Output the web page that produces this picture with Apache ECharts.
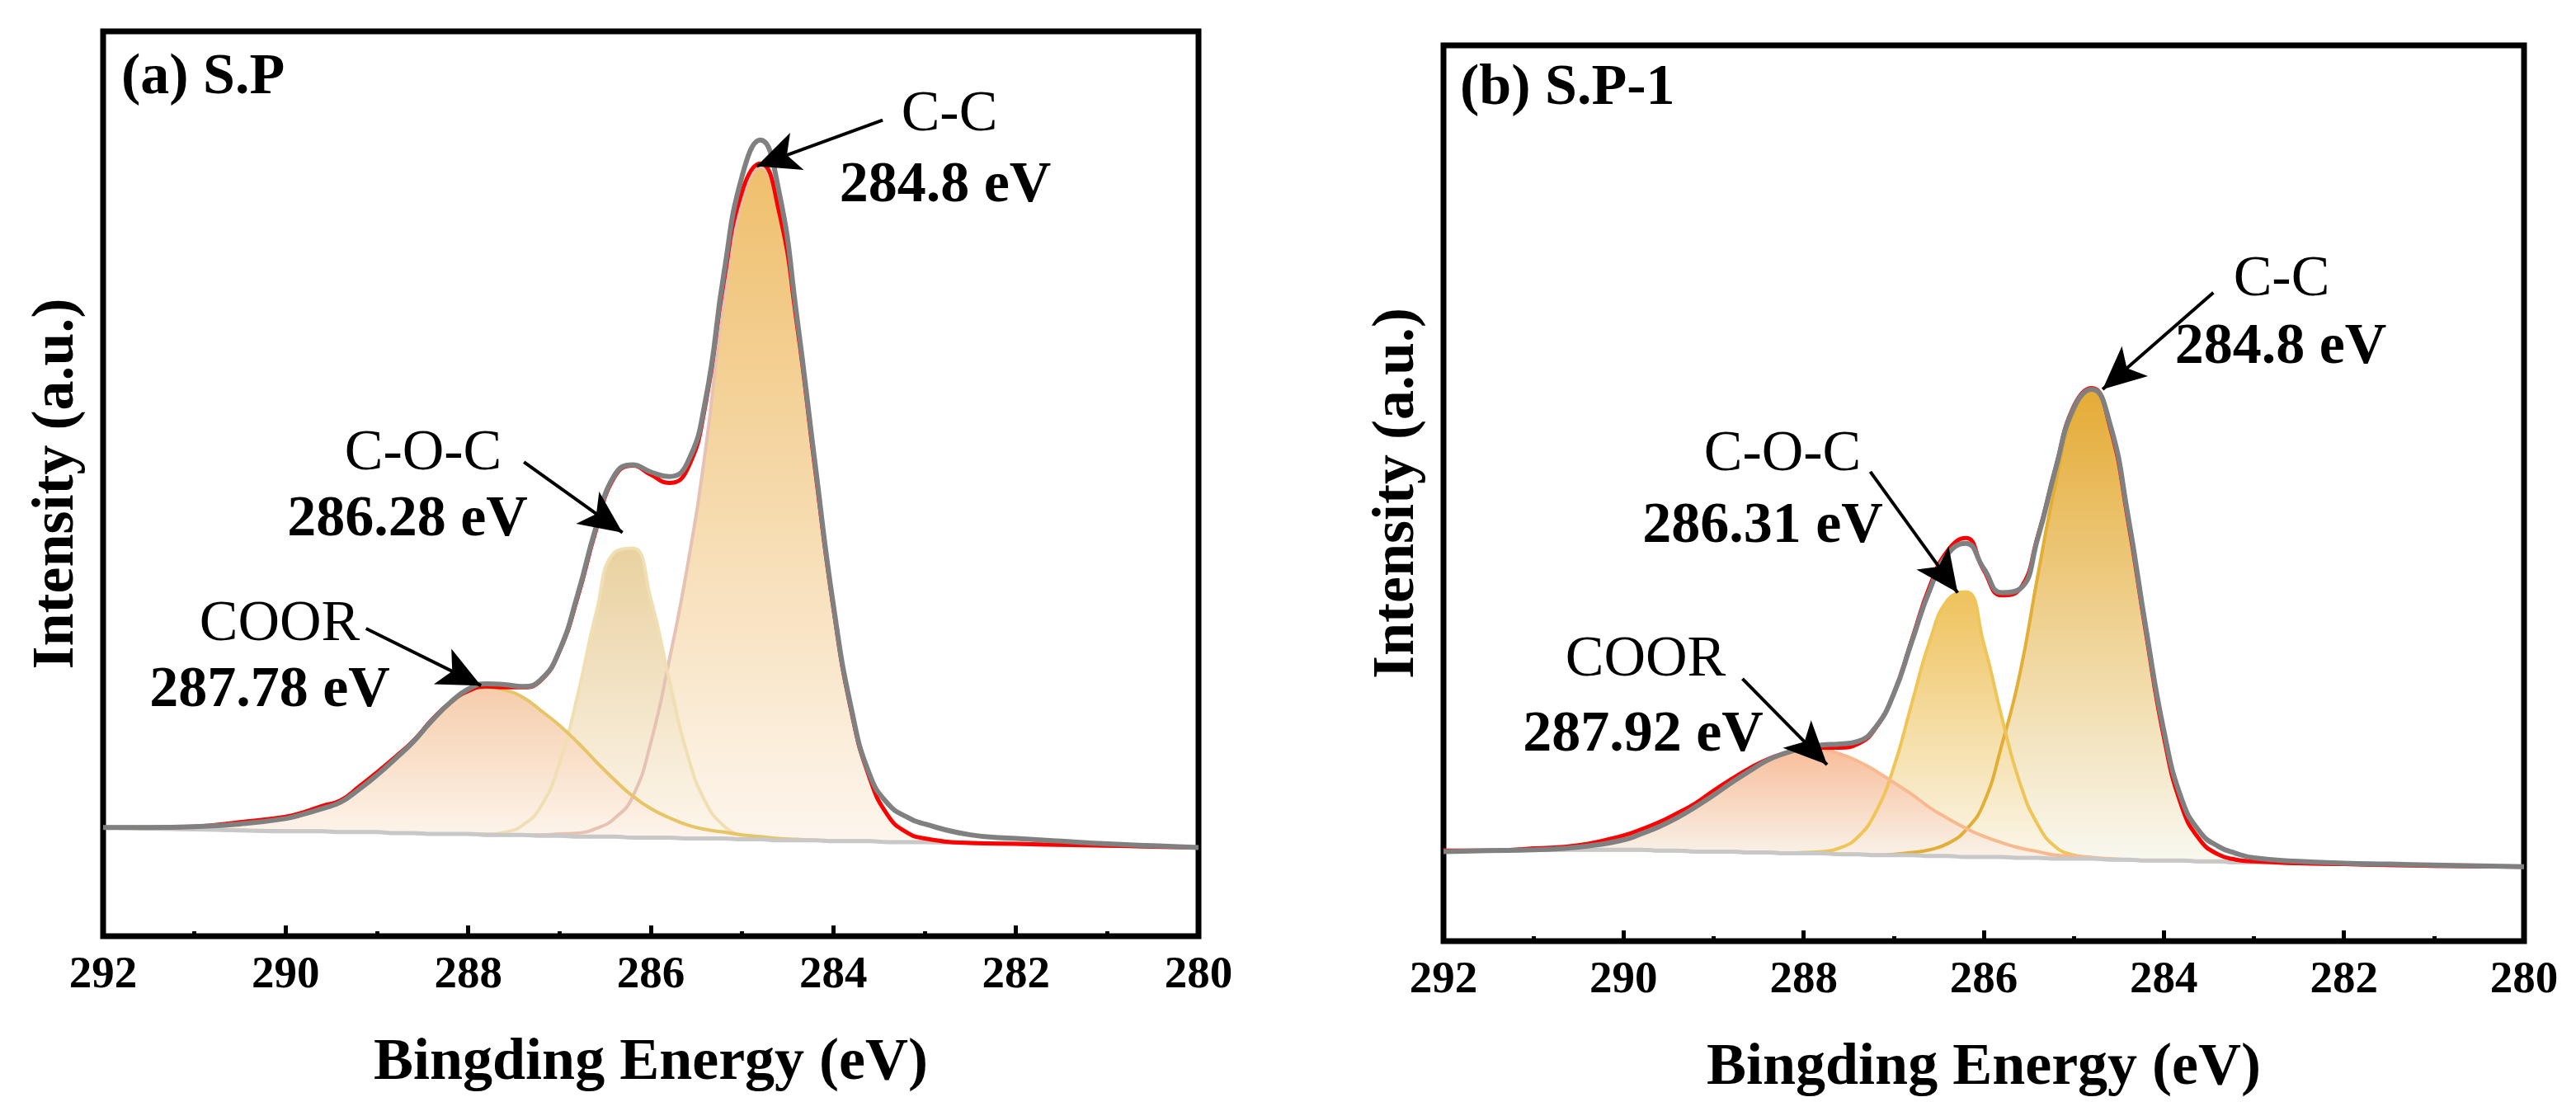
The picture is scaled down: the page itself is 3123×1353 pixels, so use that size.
<!DOCTYPE html>
<html>
<head>
<meta charset="utf-8">
<script src="https://cdn.jsdelivr.net/npm/echarts@6/dist/echarts.min.js"></script>
<style>
  html, body { margin: 0; padding: 0; background: #fff; }
  #main { width: 3123px; height: 1353px; }
</style>
</head>
<body>
<div id="main"></div>
<script>
// binding energy grid (eV), shared by both panels
const energy = [292, 291.5, 291, 290.5, 290, 289.8, 289.6, 289.4, 289.2, 289, 288.8, 288.6, 288.4, 288.2, 288,
  287.8, 287.6, 287.4, 287.2, 287, 286.8, 286.6, 286.4, 286.2, 286, 285.8, 285.6, 285.4, 285.2, 285,
  284.8, 284.6, 284.4, 284.2, 284, 283.8, 283.6, 283.4, 283.2, 283, 282.5, 282, 281.5, 281, 280.5, 280];
const xTicks = [292, 290, 288, 286, 284, 282, 280];

// (a) S.P
const bgA = [12.0, 11.9, 11.8, 11.7, 11.6, 11.6, 11.6, 11.5, 11.5, 11.5, 11.4, 11.4, 11.3, 11.3, 11.3,
  11.2, 11.2, 11.2, 11.1, 11.1, 11.0, 11.0, 11.0, 10.9, 10.9, 10.9, 10.8, 10.8, 10.8, 10.7,
  10.7, 10.6, 10.6, 10.6, 10.5, 10.5, 10.5, 10.4, 10.4, 10.4, 10.3, 10.2, 10.1, 10.0, 9.9, 9.8];
const ccA = [0, 0, 0, 0, 0, 0, 0, 0, 0, 0, 0, 0, 0, 0, 0,
  0, 0, 0, 0.1, 0.2, 0.4, 0.9, 2.0, 4.5, 10.5, 19.5, 30, 43, 59.5, 70.7,
  74.3, 69.5, 57.0, 41.0, 25.8, 14.2, 6.9, 2.9, 1.1, 0.4, 0, 0, 0, 0, 0, 0];
const cocA = [0, 0, 0, 0, 0, 0, 0, 0, 0, 0, 0, 0, 0, 0, 0,
  0.1, 0.3, 1.1, 3.3, 8.0, 15.7, 24.7, 31.4, 32.0, 26.4, 17.5, 9.3, 4.0, 1.4, 0.4,
  0.1, 0, 0, 0, 0, 0, 0, 0, 0, 0, 0, 0, 0, 0, 0, 0];
const coorA = [0, 0.1, 0.3, 0.9, 1.6, 2.1, 2.8, 3.5, 5.0, 6.6, 8.4, 10.2, 12.6, 14.5, 15.8,
  16.3, 16.0, 15.2, 13.8, 12.2, 10.4, 8.3, 6.3, 4.6, 3.2, 2.2, 1.5, 1.0, 0.7, 0.5,
  0.3, 0.2, 0.1, 0, 0, 0, 0, 0, 0, 0, 0, 0, 0, 0, 0, 0];
const fitA = [12.0, 12.0, 12.1, 12.6, 13.2, 13.7, 14.4, 15.0, 16.5, 18.1, 19.8, 21.6, 23.9, 25.8, 27.1,
  27.6, 27.5, 27.5, 28.3, 31.5, 37.5, 44.9, 50.7, 52.0, 51.0, 50.1, 51.6, 58.8, 72.4, 82.3,
  85.4, 80.3, 67.7, 51.6, 36.3, 24.7, 17.4, 13.3, 11.5, 10.8, 10.3, 10.2, 10.1, 10.0, 9.9, 9.8];
const rawA = [12.0, 12.0, 12.1, 12.4, 13.0, 13.5, 14.1, 14.8, 16.2, 17.8, 19.6, 21.5, 23.8, 25.8, 27.3,
  27.9, 27.8, 27.6, 28.4, 31.6, 37.8, 45.2, 50.9, 52.1, 51.3, 50.8, 52.3, 59.3, 73.2, 84.0,
  88.0, 82.5, 68.5, 52.2, 36.6, 25.0, 17.8, 14.6, 13.2, 12.4, 11.2, 10.8, 10.5, 10.2, 10.0, 9.8];

// (b) S.P-1
const bgB = [10.1, 10.1, 10.2, 10.2, 10.2, 10.2, 10.1, 10.1, 10.0, 10.0, 10.0, 9.9, 9.9, 9.8, 9.8,
  9.8, 9.7, 9.7, 9.6, 9.6, 9.6, 9.5, 9.5, 9.4, 9.4, 9.4, 9.3, 9.3, 9.2, 9.2,
  9.2, 9.1, 9.1, 9.0, 9.0, 9.0, 8.9, 8.9, 8.8, 8.8, 8.7, 8.6, 8.5, 8.4, 8.35, 8.3];
const ccB = [0, 0, 0, 0, 0, 0, 0, 0, 0, 0, 0, 0, 0, 0, 0,
  0, 0, 0, 0, 0.1, 0.3, 0.7, 1.4, 3.0, 6.0, 12.5, 20.5, 31.5, 42.0, 49.8,
  52.3, 48.3, 38.0, 25.5, 13.8, 6.0, 2.4, 0.8, 0.3, 0.1, 0, 0, 0, 0, 0, 0];
const cocB = [0, 0, 0, 0, 0, 0, 0, 0, 0, 0, 0, 0, 0, 0, 0.1,
  0.2, 0.7, 1.9, 4.8, 9.8, 16.9, 24.0, 28.6, 29.6, 23.8, 15.6, 8.4, 3.7, 1.3, 0.4,
  0.1, 0, 0, 0, 0, 0, 0, 0, 0, 0, 0, 0, 0, 0, 0, 0];
const coorB = [0, 0, 0.15, 0.5, 1.6, 2.3, 3.2, 4.2, 5.4, 6.8, 8.1, 9.4, 10.4, 11.2, 11.6,
  11.6, 11.2, 10.4, 9.4, 8.1, 6.8, 5.4, 4.2, 3.2, 2.3, 1.6, 1.1, 0.7, 0.4, 0.3,
  0.15, 0.1, 0, 0, 0, 0, 0, 0, 0, 0, 0, 0, 0, 0, 0, 0];
const fitB = [10.1, 10.1, 10.35, 10.7, 11.8, 12.5, 13.3, 14.3, 15.4, 16.8, 18.1, 19.3, 20.3, 21.0, 21.5,
  21.6, 21.6, 22.0, 23.8, 27.6, 33.6, 39.6, 43.6, 45.0, 41.4, 38.6, 39.3, 45.2, 52.9, 59.7,
  61.75, 57.5, 47.1, 34.5, 22.8, 15.0, 11.3, 9.7, 9.1, 8.9, 8.7, 8.6, 8.5, 8.4, 8.35, 8.3];
const rawB = [10.0, 10.1, 10.2, 10.5, 11.3, 12.0, 12.8, 13.8, 15.0, 16.3, 17.7, 19.0, 20.2, 21.0, 21.6,
  21.9, 22.0, 22.3, 23.9, 27.6, 33.4, 39.2, 43.2, 44.4, 41.6, 38.9, 39.3, 45.0, 52.8, 59.5,
  61.6, 57.8, 47.6, 35.0, 23.5, 15.8, 12.2, 10.6, 9.8, 9.3, 8.9, 8.7, 8.6, 8.5, 8.4, 8.3];

// arrows: [fromX, fromY, toX, toY]
const arrowsA = [[283.46, 90.2, 284.84, 85.1], [287.39, 52.4, 286.31, 44.6], [289.12, 34.0, 287.86, 27.7]];
const arrowsB = [[283.45, 72.4, 284.68, 61.6], [287.26, 52.4, 286.29, 38.9], [288.68, 29.3, 287.74, 19.7]];

const FONT = '"Liberation Serif", "Times New Roman", serif';

// intensity first, energy second -> stacking runs on the intensity dimension
function pairs(arr) {
    return energy.map((x, i) => [arr[i], x]);
}

function grad(top, bottom) {
    return new echarts.graphic.LinearGradient(0, 0, 0, 1, [
        {offset: 0, color: top},
        {offset: 1, color: bottom}
    ]);
}

function line(idx, arr, extra) {
    return Object.assign({
        type: 'line', xAxisIndex: idx, yAxisIndex: idx,
        data: pairs(arr), encode: {x: 1, y: 0},
        smooth: true, showSymbol: false, silent: true
    }, extra);
}

// one fitted component sitting on the background (stacked on bg)
function component(idx, name, bg, vals, c) {
    return [
        line(idx, bg, {stack: name, lineStyle: {opacity: 0}}),
        line(idx, vals, {
            stack: name,
            lineStyle: {color: c[0], width: 4},
            areaStyle: {color: grad(c[1], c[2]), opacity: 1}
        })
    ];
}

function panelSeries(idx, bg, cc, coc, coor, fit, raw, arrows, colors) {
    let list = [];
    list = list.concat(component(idx, 'cc' + idx, bg, cc, colors.cc));
    list = list.concat(component(idx, 'coc' + idx, bg, coc, colors.coc));
    list = list.concat(component(idx, 'coor' + idx, bg, coor, colors.coor));
    // background line
    list.push(line(idx, bg, {lineStyle: {color: '#c8c8c8', width: 5}}));
    // fitted envelope
    list.push(line(idx, fit, {lineStyle: {color: '#ff0000', width: 5}}));
    // raw data
    list.push(line(idx, raw, {
        lineStyle: {color: '#808080', width: 6},
        markLine: {
            silent: true,
            symbol: ['none', 'arrow'],
            symbolSize: 50,
            label: {show: false},
            lineStyle: {color: '#000', width: 4, type: 'solid'},
            data: arrows.map(a => [
                {coord: [a[0], a[1]], symbol: 'none'},
                {coord: [a[2], a[3]], symbol: 'arrow', symbolSize: [36, 52]}
            ])
        }
    }));
    return list;
}

function xAxis(idx) {
    return {
        gridIndex: idx, type: 'value', min: 280, max: 292, interval: 2, inverse: true,
        axisLine: {show: false},
        axisTick: {inside: true, length: 13, lineStyle: {color: '#000', width: 5}},
        minorTick: {show: true, splitNumber: 2, length: 6, lineStyle: {color: '#000', width: 5}},
        splitLine: {show: false},
        axisLabel: {
            fontFamily: FONT, fontWeight: 'bold', fontSize: 55, color: '#000', margin: 20,
            formatter: v => xTicks.indexOf(v) >= 0 ? String(v) : ''
        },
        name: 'Bingding Energy (eV)', nameLocation: 'middle', nameGap: 118,
        nameTextStyle: {fontFamily: FONT, fontWeight: 'bold', fontSize: 72, color: '#000'}
    };
}

function yAxis(idx) {
    return {
        gridIndex: idx, type: 'value', min: 0, max: 100,
        axisLine: {show: false}, axisTick: {show: false}, axisLabel: {show: false},
        splitLine: {show: false},
        name: 'Intensity (a.u.)', nameLocation: 'middle', nameGap: 20,
        nameTextStyle: {fontFamily: FONT, fontWeight: 'bold', fontSize: 72, color: '#000'}
    };
}

function txt(x, y, s, bold, align) {
    return {
        type: 'text', x: x, y: y, silent: true, z: 100,
        style: {
            text: s, fill: '#000', align: align || 'center', verticalAlign: 'middle',
            font: (bold ? 'bold ' : '') + '70px ' + FONT
        }
    };
}

// [outline, fill top, fill bottom]
const colorsA = {
    cc: ['#e6c2b4', '#efbf6c', '#fdf6ef'],
    coc: ['#f1dfb4', '#e9d1a0', '#fdf7ee'],
    coor: ['#e7c466', '#f5cdab', '#fef7f0']
};
const colorsB = {
    cc: ['#e2ae35', '#e5ab35', '#f9f9f2'],
    coc: ['#f0c557', '#efc25c', '#fbf8ee'],
    coor: ['#f9b98e', '#f8be9b', '#f9f7f0']
};

let myChart = echarts.init(document.getElementById('main'));
myChart.setOption({
    animation: false,
    backgroundColor: '#fff',
    grid: [
        {left: 125, top: 38, width: 1328, height: 1097, show: true, borderColor: '#000', borderWidth: 7, backgroundColor: 'transparent'},
        {left: 1750, top: 55, width: 1310, height: 1086, show: true, borderColor: '#000', borderWidth: 7, backgroundColor: 'transparent'}
    ],
    xAxis: [xAxis(0), xAxis(1)],
    yAxis: [yAxis(0), yAxis(1)],
    series: panelSeries(0, bgA, ccA, cocA, coorA, fitA, rawA, arrowsA, colorsA)
        .concat(panelSeries(1, bgB, ccB, cocB, coorB, fitB, rawB, arrowsB, colorsB)),
    graphic: [
        txt(147, 95, '(a) S.P', true, 'left'),
        txt(1151, 140, 'C-C', false),
        txt(1146, 226, '284.8 eV', true),
        txt(513, 551, 'C-O-C', false),
        txt(494, 631, '286.28 eV', true),
        txt(339, 758, 'COOR', false),
        txt(327, 838, '287.78 eV', true),
        txt(1770, 108, '(b) S.P-1', true, 'left'),
        txt(2766, 340, 'C-C', false),
        txt(2765, 422, '284.8 eV', true),
        txt(2161, 552, 'C-O-C', false),
        txt(2137, 639, '286.31 eV', true),
        txt(1995, 801, 'COOR', false),
        txt(1992, 892, '287.92 eV', true)
    ]
});
</script>
</body>
</html>
